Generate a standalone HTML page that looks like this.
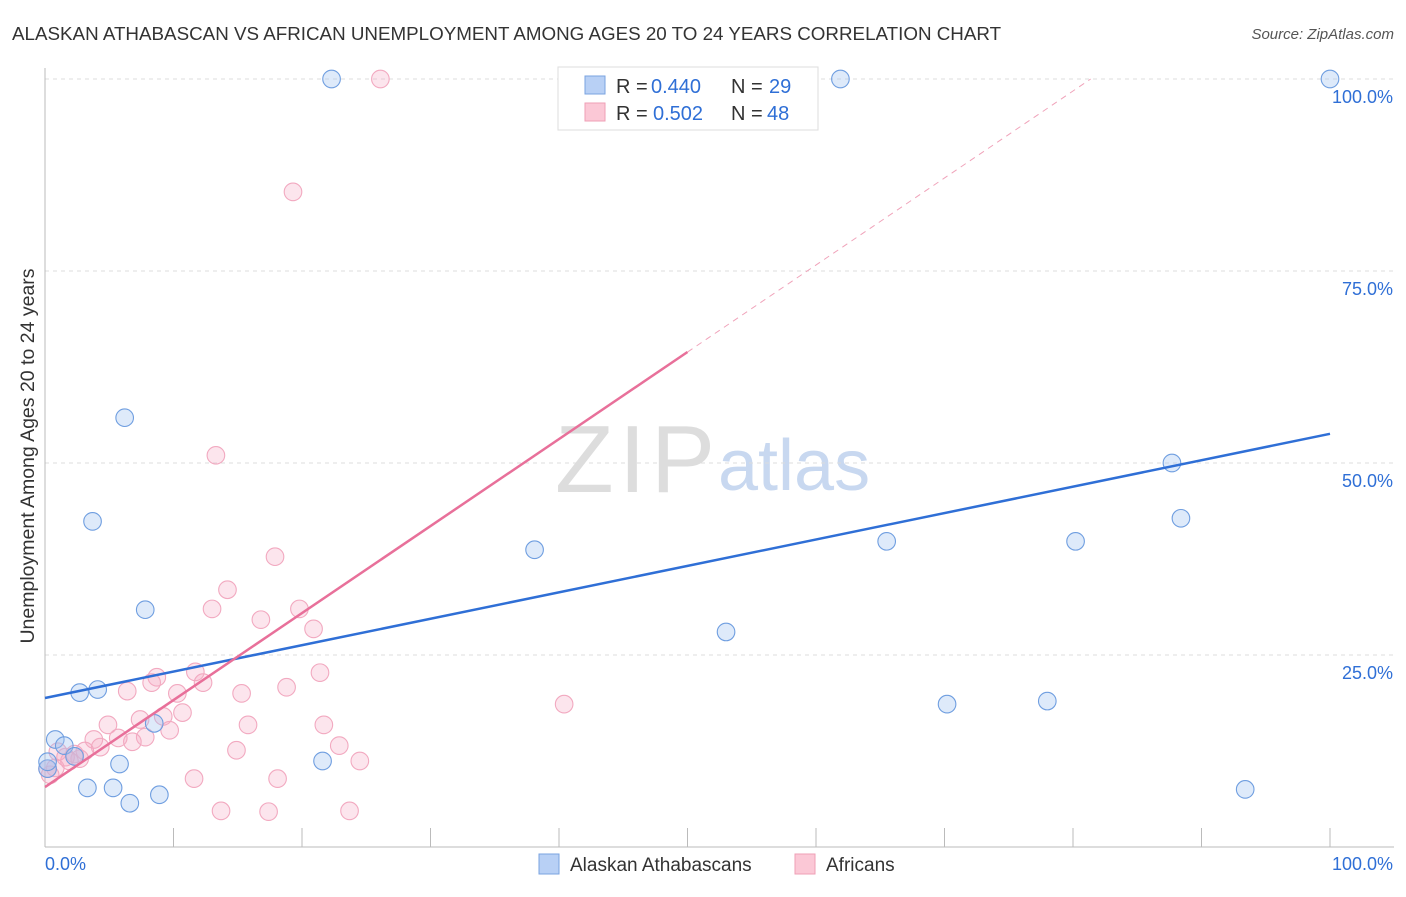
<!DOCTYPE html>
<html><head><meta charset="utf-8"><style>
body{margin:0;background:#fff;font-family:"Liberation Sans",sans-serif}
svg text{font-family:"Liberation Sans",sans-serif}
</style></head><body>
<svg id="c" width="1406" height="892">
<text x="12" y="40" font-size="18.8" fill="#333">ALASKAN ATHABASCAN VS AFRICAN UNEMPLOYMENT AMONG AGES 20 TO 24 YEARS CORRELATION CHART</text>
<text x="1394" y="39" font-size="15" fill="#555" text-anchor="end" font-style="italic">Source: ZipAtlas.com</text>
<text x="555" y="492" font-size="96" fill="#ddd" font-family="Liberation Serif" textLength="160">ZIP</text>
<text x="718" y="490" font-size="72" fill="#c8d8f0">atlas</text>
<text transform="translate(34,456) rotate(-90)" font-size="19.5" fill="#333" text-anchor="middle">Unemployment Among Ages 20 to 24 years</text>
<g id="grid"></g><g id="pts"></g><g id="lines"></g>
<g>
<rect x="558" y="67" width="260" height="63" fill="#fff" stroke="#ddd"/>
<rect x="585" y="76" width="20" height="18" fill="#b8d0f5" stroke="#7aa3e0"/>
<rect x="585" y="103" width="20" height="18" fill="#fbc8d6" stroke="#ef9fb6"/>
<text x="616" y="93" font-size="20" fill="#333">R =</text><text x="651" y="93" font-size="20" fill="#2f6fd6">0.440</text>
<text x="731" y="93" font-size="20" fill="#333">N =</text><text x="769" y="93" font-size="20" fill="#2f6fd6">29</text>
<text x="616" y="120" font-size="20" fill="#333">R =</text><text x="653" y="120" font-size="20" fill="#2f6fd6">0.502</text>
<text x="731" y="120" font-size="20" fill="#333">N =</text><text x="767" y="120" font-size="20" fill="#2f6fd6">48</text>
</g>
<g>
<rect x="539" y="854" width="20" height="20" fill="#b8d0f5" stroke="#7aa3e0"/>
<text x="570" y="871" font-size="19" fill="#333">Alaskan Athabascans</text>
<rect x="795" y="854" width="20" height="20" fill="#fbc8d6" stroke="#ef9fb6"/>
<text x="826" y="871" font-size="19" fill="#333">Africans</text>
</g>
</svg>
<script>
const yTicks=[25,50,75,100];
const yTickLabels=["25.0%","50.0%","75.0%","100.0%"];
const xTicks=[0,10,20,30,40,50,60,70,80,90,100];
const blueX=[22.3,61.9,100,6.2,3.7,38.1,7.8,65.5,80.2,87.7,88.4,53,2.7,4.1,70.2,78,0.8,1.5,8.5,5.8,21.6,3.3,5.3,8.9,6.6,93.4,0.2,2.3,0.2];
const blueY=[100,100,100,55.9,42.4,38.7,30.9,39.8,39.8,50,42.8,28,20.1,20.5,18.6,19,14,13.2,16.1,10.8,11.2,7.7,7.7,6.8,5.7,7.5,10.2,11.8,11.1];
const pinkX=[26.1,19.3,13.3,17.9,14.2,13,19.8,16.8,20.9,21.4,11.7,8.7,8.3,12.3,10.3,6.4,15.3,18.8,10.7,7.4,9.2,4.9,15.8,21.7,9.7,5.7,7.8,3.8,6.8,22.9,14.9,4.3,3.1,1,2.3,1.6,2.7,24.5,11.6,18.1,13.7,17.4,23.7,40.4,0.8,0.4,0.2,1.9];
const pinkY=[100,85.3,51,37.8,33.5,31,31,29.6,28.4,22.7,22.8,22.1,21.4,21.4,20,20.3,20,20.8,17.5,16.6,17,15.9,15.9,15.9,15.2,14.2,14.3,14,13.7,13.2,12.6,13,12.5,12.4,12.1,11.7,11.5,11.2,8.9,8.9,4.7,4.6,4.7,18.6,10.3,9.4,10.2,11.2];
const blueLine=[19.4,0.344];
const pinkLine=[7.8,1.133];
const NS='http://www.w3.org/2000/svg';
const X=v=>45+v*12.85, Y=v=>847-v*7.68;
function mk(t,a,p){const e=document.createElementNS(NS,t);for(const k in a)e.setAttribute(k,a[k]);p.appendChild(e);return e;}
const g=document.getElementById('grid');
yTicks.forEach((t,i)=>{
 const l=mk('line',{x1:45,x2:1394,y1:Y(t),y2:Y(t),stroke:'#ddd','stroke-dasharray':'4,4'},g);
 
 
 const tx=mk('text',{x:1393,y:Y(t)+24,'font-size':18,fill:'#2f6fd6','text-anchor':'end'},g);tx.textContent=yTickLabels[i];
 
 
});
mk('line',{x1:45,x2:45,y1:68,y2:847,stroke:'#bbb'},g);
mk('line',{x1:45,x2:1394,y1:847,y2:847,stroke:'#bbb'},g);
xTicks.forEach(t=>{const l=mk('line',{x1:X(t),x2:X(t),y1:828,y2:847,stroke:'#bbb'},g);
 
 });
let a=mk('text',{x:45,y:870,'font-size':18,fill:'#2f6fd6'},g);a.textContent='0.0%';


a=mk('text',{x:1393,y:870,'font-size':18,fill:'#2f6fd6','text-anchor':'end'},g);a.textContent='100.0%';


const p=document.getElementById('pts');
pinkX.forEach((x,i)=>{const c=mk('circle',{cx:X(x),cy:Y(pinkY[i]),r:8.8,fill:'rgba(246,170,195,0.3)',stroke:'#f2a9c0','stroke-width':1.1},p);
 
 });
blueX.forEach((x,i)=>{const c=mk('circle',{cx:X(x),cy:Y(blueY[i]),r:8.8,fill:'rgba(160,195,240,0.35)',stroke:'#6f9ee0','stroke-width':1.1},p);
 
 });
const L=document.getElementById('lines');
let b=mk('line',{x1:X(0),y1:Y(blueLine[0]),x2:X(100),y2:Y(blueLine[0]+100*blueLine[1]),stroke:'#2f6fd6','stroke-width':2.5},L);


b=mk('line',{x1:X(0),y1:Y(pinkLine[0]),x2:X(50),y2:Y(pinkLine[0]+50*pinkLine[1]),stroke:'#e8709a','stroke-width':2.5},L);


const xe=(100-pinkLine[0])/pinkLine[1];
b=mk('line',{x1:X(50),y1:Y(pinkLine[0]+50*pinkLine[1]),x2:X(xe),y2:Y(100),stroke:'#f0a3ba','stroke-width':1,'stroke-dasharray':'6,5'},L);


</script>
</body></html>
